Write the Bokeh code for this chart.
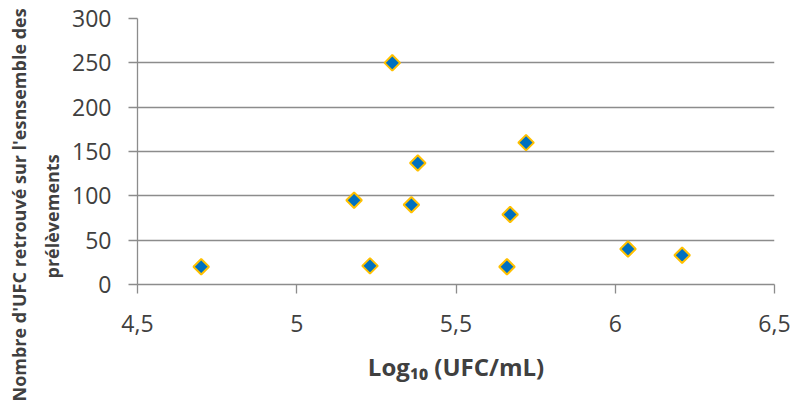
import numpy as np
from bokeh.plotting import figure
from bokeh.models import ColumnDataSource, FixedTicker, CustomJSTickFormatter, Title
from bokeh.embed import file_html
from bokeh.resources import INLINE

log_ufc = [4.70, 5.23, 5.30, 5.18, 5.38, 5.36, 5.72, 5.67, 5.66, 6.04, 6.21]
nb_ufc = [20, 21, 250, 95, 137, 90, 160, 79, 20, 40, 33]
x_ticks = [4.5, 5, 5.5, 6, 6.5]
y_ticks = [0, 50, 100, 150, 200, 250, 300]
y_title = ["Nombre d'UFC retrouvé sur l'esnsemble des", "prélèvements"]
x_title = "Log\u2081\u2080 (UFC/mL)"

src = ColumnDataSource(dict(x=log_ufc, y=nb_ufc))

p = figure(width=801, height=403, output_backend="svg", toolbar_location=None,
           x_range=(4.5, 6.5), y_range=(0, 300),
           min_border_left=137, min_border_right=27, min_border_top=18, min_border_bottom=119)
p.outline_line_color = None
p.xgrid.grid_line_color = None
p.ygrid.grid_line_color = "#8c8c8c"
p.ygrid.grid_line_width = 1.3

p.scatter("x", "y", source=src, marker="square", angle=np.pi / 4, size=11,
          fill_color="#0070C0", line_color="#FFC000", line_width=2)

grey = "#8c8c8c"
font = "Open Sans"
txt = "#404040"
p.xaxis.ticker = FixedTicker(ticks=x_ticks)
p.yaxis.ticker = FixedTicker(ticks=y_ticks)
p.xaxis.formatter = CustomJSTickFormatter(code="return tick.toString().replace('.', ',');")
for ax in (p.xaxis[0], p.yaxis[0]):
    ax.axis_line_color = grey
    ax.axis_line_width = 1.3
    ax.major_tick_line_color = grey
    ax.major_tick_line_width = 1.3
    ax.major_tick_in = 0
    ax.major_tick_out = 9
    ax.minor_tick_line_color = None
    ax.major_label_text_font = font
    ax.major_label_text_font_size = "23px"
    ax.major_label_text_color = txt

p.xaxis.major_label_standoff = 21
p.yaxis.major_label_standoff = 17

p.xaxis.axis_label = x_title
p.xaxis.axis_label_text_font = font
p.xaxis.axis_label_text_font_style = "bold"
p.xaxis.axis_label_text_font_size = "24px"
p.xaxis.axis_label_text_color = txt
p.xaxis.axis_label_standoff = 15

# y-axis title: two lines as side titles (second line nearest the axis)
t2 = Title(text=y_title[1], align="left", offset=6, standoff=12,
           text_font=font, text_font_style="bold", text_font_size="18px", text_color=txt)
t1 = Title(text=y_title[0], align="left", offset=-117, standoff=2,
           text_font=font, text_font_style="bold", text_font_size="18px", text_color=txt)
p.add_layout(t2, "left")
p.add_layout(t1, "left")

open("out.html", "w").write(file_html(p, INLINE))
